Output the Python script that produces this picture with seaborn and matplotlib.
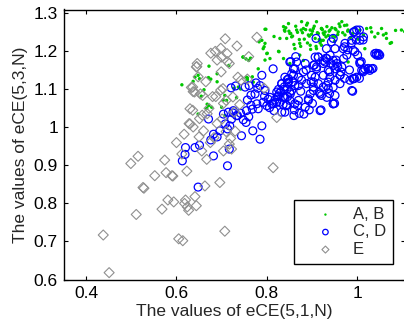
import numpy as np
import pandas as pd
import matplotlib
matplotlib.use("Agg")
import matplotlib.pyplot as plt
import seaborn as sns

# ---------------- data ----------------
ab_x = [0.612, 0.641, 0.648, 0.651, 0.637, 0.672, 0.671, 0.676, 0.661, 0.690,
        0.716, 0.747, 0.754, 0.757, 0.733, 0.707, 0.711, 0.700, 0.671, 0.667,
        0.678, 0.648, 0.707, 0.737, 0.742, 0.757, 0.768, 0.764, 0.760, 0.748,
        0.755, 0.770, 0.781, 0.789, 0.792, 0.796, 0.800, 0.807, 0.826, 0.837,
        0.796, 0.848, 0.837, 0.840, 0.851, 0.829, 0.844, 0.855, 0.866, 0.877,
        0.881, 0.888, 0.896, 0.892, 0.903, 0.910, 0.914, 0.921, 0.933, 0.907,
        0.921, 0.873, 0.862, 0.873, 0.881, 0.851, 0.896, 0.910, 0.925, 0.918,
        0.921, 0.929, 0.940, 0.951, 0.958, 0.962, 0.966, 0.977, 0.980, 0.973,
        0.951, 0.936, 0.925, 1.006, 1.014, 1.021, 1.032, 1.039, 1.054, 1.058,
        1.065, 1.073, 1.098, 1.017, 0.980, 0.921, 0.849, 0.857, 0.864, 0.872,
        0.879, 0.886, 0.894, 0.901, 0.905, 0.912, 0.916, 0.923, 0.927, 0.938,
        0.946, 0.953, 0.957, 0.968, 0.979, 0.860, 0.875, 0.890, 0.909, 0.897,
        0.920, 0.950, 0.842, 0.868, 0.883, 0.899, 0.931, 0.944, 0.990, 1.002,
        1.046, 1.064, 1.076, 1.105, 0.816, 0.827, 0.783, 0.794, 0.798, 0.801,
        0.796, 0.839, 0.853, 0.876, 0.890, 0.960, 0.972, 0.985, 0.995, 1.030,
        1.085, 0.655, 0.668, 0.704, 0.727, 0.690]
ab_y = [1.112, 1.132, 1.137, 1.128, 1.121, 1.161, 1.131, 1.127, 1.099, 1.141,
        1.163, 1.185, 1.180, 1.130, 1.078, 1.084, 1.071, 1.053, 1.057, 1.050,
        1.053, 1.035, 1.031, 1.106, 1.101, 1.125, 1.133, 1.182, 1.176, 1.185,
        1.132, 1.119, 1.154, 1.229, 1.207, 1.221, 1.194, 1.181, 1.200, 1.181,
        1.258, 1.273, 1.265, 1.253, 1.247, 1.234, 1.234, 1.238, 1.256, 1.278,
        1.260, 1.269, 1.256, 1.243, 1.260, 1.278, 1.247, 1.260, 1.265, 1.234,
        1.229, 1.221, 1.207, 1.190, 1.176, 1.168, 1.216, 1.207, 1.229, 1.222,
        1.260, 1.251, 1.256, 1.260, 1.251, 1.265, 1.278, 1.269, 1.256, 1.243,
        1.238, 1.242, 1.248, 1.256, 1.243, 1.260, 1.251, 1.238, 1.260, 1.243,
        1.234, 1.221, 1.256, 1.207, 1.172, 1.216, 1.253, 1.240, 1.266, 1.231,
        1.249, 1.257, 1.240, 1.253, 1.266, 1.249, 1.231, 1.257, 1.244, 1.253,
        1.240, 1.257, 1.244, 1.249, 1.253, 1.218, 1.213, 1.222, 1.213, 1.205,
        1.228, 1.226, 1.262, 1.250, 1.232, 1.245, 1.238, 1.262, 1.247, 1.232,
        1.247, 1.247, 1.223, 1.252, 1.239, 1.199, 1.225, 1.212, 1.258, 1.195,
        1.177, 1.256, 1.247, 1.256, 1.274, 1.272, 1.268, 1.236, 1.262, 1.262,
        1.255, 1.082, 1.061, 1.072, 1.103, 1.120]

cd_x = [0.613, 0.619, 0.620, 0.641, 0.651, 0.648, 0.682, 0.713, 0.717, 0.676,
        0.682, 0.696, 0.690, 0.671, 0.708, 0.718, 0.713, 0.704, 0.715, 0.726,
        0.722, 0.733, 0.744, 0.769, 0.785, 0.789, 0.754, 0.742, 0.755, 0.768,
        0.781, 0.800, 0.811, 0.822, 0.833, 0.840, 0.816, 0.760, 0.748, 0.735,
        0.725, 0.721, 0.731, 0.761, 0.780, 0.776, 0.814, 0.789, 0.785, 0.765,
        0.752, 0.774, 0.796, 0.807, 0.822, 0.833, 0.848, 0.859, 0.855, 0.866,
        0.862, 0.840, 0.877, 0.888, 0.899, 0.910, 0.914, 0.929, 0.932, 0.903,
        0.918, 0.892, 0.870, 0.851, 0.829, 0.814, 0.792, 0.778, 0.936, 0.851,
        0.862, 0.840, 0.833, 0.848, 0.859, 0.870, 0.881, 0.885, 0.870, 0.855,
        0.845, 0.837, 0.851, 0.862, 0.860, 0.844, 0.885, 0.882, 0.892, 0.896,
        0.903, 0.907, 0.910, 0.914, 0.903, 0.925, 0.933, 0.940, 0.947, 0.955,
        0.951, 0.936, 0.925, 0.940, 0.962, 0.966, 0.970, 0.977, 0.925, 0.936,
        0.947, 0.921, 0.933, 0.947, 0.918, 0.984, 0.992, 1.006, 1.010, 1.017,
        1.028, 0.990, 1.043, 1.047, 0.907, 0.995, 0.903, 0.914, 0.951, 0.962,
        0.999, 0.992, 0.947, 0.943, 0.973, 0.988, 1.006, 1.014, 0.951, 0.969,
        0.991, 1.039, 1.047, 1.006, 1.025, 1.032, 1.014, 0.999, 0.991, 0.988,
        0.962, 0.947, 0.925, 0.932, 0.951, 0.947, 0.901, 0.920, 0.872, 0.894,
        0.861, 0.843, 0.846, 0.824, 0.831, 0.839, 0.846, 0.853, 0.864, 0.898,
        0.887, 0.905, 0.931, 0.939, 0.942, 0.953, 0.957, 0.964, 0.972, 0.983,
        0.994, 1.005, 1.009, 1.013, 1.024, 1.035, 1.042, 1.050, 1.001, 0.998,
        1.013, 1.005, 0.994, 0.987, 0.979, 0.972, 0.909, 0.950, 0.939, 0.916,
        0.828, 0.838, 0.845, 0.852, 0.836, 0.826, 0.818, 0.875, 0.868, 0.803,
        0.795, 0.757, 0.765, 0.806, 0.826, 0.858]
cd_y = [0.912, 0.929, 0.947, 0.947, 0.953, 0.843, 0.925, 0.899, 0.943, 0.967,
        0.982, 0.991, 0.975, 1.022, 1.009, 1.004, 0.996, 1.035, 1.040, 1.044,
        1.022, 1.031, 0.978, 0.991, 0.969, 1.004, 1.013, 1.037, 1.044, 1.048,
        1.049, 1.057, 1.062, 1.066, 1.040, 1.040, 1.044, 1.028, 1.020, 1.031,
        1.038, 1.104, 1.109, 1.110, 1.103, 1.117, 1.154, 1.137, 1.110, 1.085,
        1.106, 1.088, 1.097, 1.079, 1.093, 1.115, 1.128, 1.154, 1.141, 1.172,
        1.110, 1.079, 1.124, 1.115, 1.137, 1.154, 1.185, 1.172, 1.207, 1.097,
        1.088, 1.075, 1.071, 1.093, 1.066, 1.062, 1.066, 1.062, 1.119, 1.172,
        1.154, 1.132, 1.115, 1.119, 1.137, 1.132, 1.146, 1.168, 1.110, 1.097,
        1.101, 1.079, 1.071, 1.062, 1.031, 1.057, 1.053, 1.035, 1.071, 1.088,
        1.106, 1.132, 1.159, 1.185, 1.163, 1.168, 1.181, 1.190, 1.176, 1.168,
        1.154, 1.150, 1.137, 1.132, 1.137, 1.159, 1.181, 1.190, 1.106, 1.102,
        1.106, 1.084, 1.079, 1.062, 1.044, 1.124, 1.128, 1.168, 1.150, 1.154,
        1.150, 1.095, 1.190, 1.194, 1.185, 1.199, 1.119, 1.115, 1.124, 1.115,
        1.256, 1.251, 1.234, 1.225, 1.221, 1.229, 1.229, 1.238, 1.207, 1.207,
        1.203, 1.194, 1.190, 1.172, 1.154, 1.154, 1.150, 1.132, 1.128, 1.097,
        1.137, 1.163, 1.176, 1.110, 1.084, 1.062, 1.063, 1.046, 1.037, 1.046,
        1.046, 1.059, 1.081, 1.081, 1.094, 1.107, 1.116, 1.173, 1.186, 1.120,
        1.151, 1.164, 1.182, 1.146, 1.168, 1.177, 1.160, 1.146, 1.129, 1.151,
        1.129, 1.129, 1.173, 1.146, 1.155, 1.155, 1.195, 1.190, 1.190, 1.230,
        1.230, 1.256, 1.252, 1.221, 1.204, 1.212, 1.234, 1.063, 1.089, 1.092,
        1.090, 1.100, 1.125, 1.088, 1.060, 1.083, 1.072, 1.095, 1.058, 1.074,
        1.082, 1.072, 1.058, 1.052, 1.100, 1.120]

e_x = [0.438, 0.451, 0.499, 0.515, 0.511, 0.526, 0.528, 0.552, 0.574, 0.577,
       0.590, 0.568, 0.581, 0.594, 0.620, 0.624, 0.627, 0.618, 0.644, 0.641,
       0.623, 0.605, 0.614, 0.663, 0.696, 0.707, 0.814, 0.617, 0.630, 0.637,
       0.630, 0.633, 0.637, 0.640, 0.646, 0.644, 0.648, 0.653, 0.657, 0.660,
       0.650, 0.656, 0.667, 0.683, 0.676, 0.686, 0.680, 0.687, 0.690, 0.698,
       0.699, 0.708, 0.712, 0.700, 0.713, 0.698, 0.704, 0.701, 0.710, 0.720,
       0.717, 0.722, 0.704, 0.734, 0.717, 0.736, 0.743, 0.757, 0.760, 0.778,
       0.794, 0.822, 0.636, 0.658, 0.703, 0.710, 0.636, 0.628, 0.651, 0.668,
       0.672, 0.645, 0.665, 0.725, 0.728, 0.690, 0.675, 0.730, 0.592, 0.600,
       0.612, 0.740]
e_y = [0.717, 0.618, 0.905, 0.924, 0.771, 0.842, 0.840, 0.873, 0.914, 0.881,
       0.873, 0.785, 0.809, 0.804, 0.809, 0.791, 0.782, 0.800, 0.794, 0.818,
       0.885, 0.707, 0.702, 0.846, 0.855, 0.727, 0.894, 0.982, 1.009, 1.001,
       1.049, 1.105, 1.094, 1.093, 1.168, 1.159, 1.133, 1.088, 1.032, 0.991,
       0.975, 0.938, 0.916, 0.973, 1.195, 1.200, 1.081, 1.081, 1.177, 1.208,
       1.146, 1.233, 1.194, 1.185, 1.173, 1.098, 1.063, 1.022, 0.989, 0.971,
       0.956, 0.943, 0.938, 1.214, 1.168, 1.132, 1.124, 1.127, 1.186, 1.237,
       1.103, 1.026, 1.106, 1.084, 1.102, 1.071, 1.045, 1.010, 1.023, 1.036,
       1.050, 1.160, 1.120, 1.080, 1.040, 1.010, 0.960, 0.990, 0.872, 0.960,
       0.930, 1.060]

labels = ["A, B", "C, D", "E"]
x_ticks = [0.4, 0.6, 0.8, 1.0]
x_ticklabels = ["0.4", "0.6", "0.8", "1"]
y_ticks = [0.6, 0.7, 0.8, 0.9, 1.0, 1.1, 1.2, 1.3]
y_ticklabels = ["0.6", "0.7", "0.8", "0.9", "1", "1.1", "1.2", "1.3"]

# ---------------- plotting ----------------
sns.set_theme(style="white")
plt.rcParams["font.family"] = ["Liberation Sans", "DejaVu Sans"]

W, H = 404, 325
fig = plt.figure(figsize=(W / 100, H / 100), dpi=100)
ax = fig.add_axes([63.5 / W, 45.5 / H, (405.5 - 63.5) / W, (279.5 - 9.5) / H])

sns.scatterplot(x=ab_x, y=ab_y, ax=ax, marker="o", s=6, color="#00c800",
                edgecolor="none", linewidth=0, label=labels[0])
sns.scatterplot(x=cd_x, y=cd_y, ax=ax, marker="o", s=32, facecolor="none",
                edgecolor="#0000ff", linewidth=0.9, label=labels[1])
sns.scatterplot(x=e_x, y=e_y, ax=ax, marker="D", s=26, facecolor="none",
                edgecolor="#8f8f8f", linewidth=0.8, label=labels[2])

ax.set_xlim(0.35, 1.107)
ax.set_ylim(0.6, 1.31)
ax.set_xticks(x_ticks)
ax.set_xticklabels(x_ticklabels)
ax.set_yticks(y_ticks)
ax.set_yticklabels(y_ticklabels)
ax.tick_params(direction="in", length=2.6, width=0.8, colors="black",
               labelsize=12.5, top=True, right=True, bottom=True, left=True)
ax.tick_params(axis="x", pad=5)
ax.tick_params(axis="y", pad=4)
for sp in ax.spines.values():
    sp.set_visible(True)
    sp.set_color("black")
    sp.set_linewidth(1.0)
ax.grid(False)
ax.set_facecolor("white")

ax.set_xlabel("The values of eCE(5,1,N)", fontsize=12.5, labelpad=2)
ax.set_ylabel("The values of eCE(5,3,N)", fontsize=12.5, labelpad=4)

leg = ax.legend(loc="lower right", bbox_to_anchor=(0.987, 0.028),
                fontsize=12, frameon=True, fancybox=False, edgecolor="black",
                framealpha=1, borderpad=0.4, handlelength=3.0,
                handletextpad=0.15, labelspacing=0.15, markerscale=0.7)
leg.get_frame().set_linewidth(1.0)

fig.savefig("out.png", dpi=100)
